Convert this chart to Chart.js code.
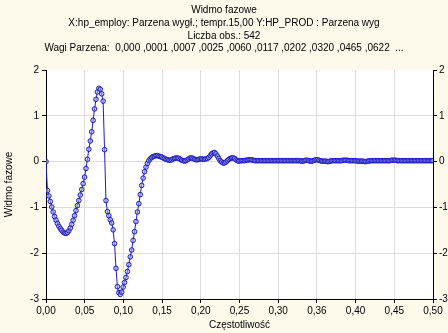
<!DOCTYPE html>
<html>
<head>
<meta charset="utf-8">
<script src="https://cdn.jsdelivr.net/npm/chart.js@4/dist/chart.umd.min.js"></script>
<style>
  html, body { margin: 0; padding: 0; background: #fdfaeb; }
  canvas { display: block; }
</style>
</head>
<body>
<canvas id="chart" width="448" height="333"></canvas>
<script>
// header lines of the chart
const headerLines = [
  'Widmo fazowe',
  'X:hp_employ: Parzena wygł.; tempr.15,00 Y:HP_PROD : Parzena wyg',
  'Liczba obs.: 542',
  'Wagi Parzena:  0,000 ,0001 ,0007 ,0025 ,0060 ,0117 ,0202 ,0320 ,0465 ,0622  ...'
];

const xTickLabels = ['0,00', '0,05', '0,10', '0,15', '0,20', '0,25', '0,30', '0,36', '0,40', '0,45', '0,50'];
const yTickLabels = { '2': '2', '1': '1', '0': '0', '-1': '-1', '-2': '-2', '-3': '-3' };

// number of observations -> frequency step 1/542
const obsCount = 542;

// phase spectrum, one value per frequency k/542, k = 0..271
const phase = [
  0.00, -0.63, -0.75, -0.87, -0.99, -1.10, -1.20, -1.28, -1.35, -1.41,
  -1.46, -1.50, -1.54, -1.56, -1.57, -1.55, -1.51, -1.45, -1.37, -1.28,
  -1.18, -1.07, -0.96, -0.85, -0.73, -0.61, -0.48, -0.34, -0.15, 0.05,
  0.27, 0.45, 0.65, 0.90, 1.15, 1.36, 1.52, 1.60, 1.58, 1.48,
  1.32, 0.26, -0.85, -1.09, -1.18, -1.27, -1.34, -1.49, -1.79, -2.33,
  -2.73, -2.86, -2.90, -2.85, -2.74, -2.64, -2.53, -2.40, -2.25, -2.08,
  -1.93, -1.72, -1.53, -1.31, -1.10, -0.92, -0.72, -0.52, -0.36, -0.22,
  -0.12, -0.04, 0.02, 0.06, 0.09, 0.11, 0.12, 0.13, 0.13, 0.12,
  0.11, 0.10, 0.08, 0.07, 0.05, 0.04, 0.03, 0.03, 0.04, 0.06,
  0.07, 0.08, 0.08, 0.07, 0.05, 0.03, 0.02, 0.01, 0.02, 0.04,
  0.06, 0.08, 0.08, 0.07, 0.05, 0.04, 0.04, 0.05, 0.06, 0.06,
  0.05, 0.05, 0.06, 0.07, 0.09, 0.13, 0.17, 0.19, 0.20, 0.17,
  0.12, 0.07, 0.02, -0.01, -0.03, -0.03, -0.01, 0.02, 0.05, 0.07,
  0.08, 0.08, 0.07, 0.04, 0.02, 0.01, 0.02,
  0.02, 0.02, 0.02, 0.03, 0.03, 0.04, 0.04, 0.04, 0.03, 0.02, 0.02, 0.02, 0.02, 0.02, 0.02,
  0.02, 0.02, 0.02, 0.02, 0.02, 0.02, 0.02, 0.02, 0.02, 0.02, 0.02, 0.02, 0.02, 0.02, 0.02,
  0.02, 0.02, 0.02, 0.02, 0.02, 0.02, 0.02, 0.02, 0.02, 0.02, 0.02, 0.02, 0.01, 0.01, 0.02,
  0.03, 0.03, 0.02, 0.01, 0.01, 0.02, 0.03, 0.04, 0.04, 0.03, 0.02, 0.01, 0.01, 0.01, 0.01,
  0.00, 0.00, 0.01, 0.02, 0.02, 0.02, 0.02, 0.02, 0.02, 0.02, 0.02, 0.03, 0.03, 0.03, 0.03,
  0.02, 0.02, 0.02, 0.02, 0.02, 0.02, 0.01, 0.01, 0.01, 0.01, 0.01, 0.00, 0.00, 0.01, 0.01,
  0.02, 0.02, 0.02, 0.02, 0.02, 0.02, 0.02, 0.02, 0.02, 0.02, 0.02, 0.02, 0.02, 0.02, 0.02,
  0.03, 0.03, 0.03, 0.03, 0.02, 0.02, 0.02, 0.02, 0.02, 0.02, 0.02, 0.02, 0.02, 0.02, 0.02,
  0.02, 0.02, 0.02, 0.02, 0.02, 0.02, 0.02, 0.02, 0.02, 0.02, 0.02, 0.02, 0.02, 0.02, 0.02
];

const points = phase.map((v, k) => ({ x: k / obsCount, y: v }));

const FONT = 'Liberation Sans, Arial, sans-serif';
const gridCol = '#dcdcdc';

// cream page, white plot area, header text
const backdrop = {
  id: 'backdrop',
  beforeDraw(chart) {
    const { ctx, chartArea: a } = chart;
    ctx.save();
    ctx.fillStyle = '#fdfaeb';
    ctx.fillRect(0, 0, chart.width, chart.height);
    ctx.fillStyle = '#ffffff';
    ctx.fillRect(a.left, a.top, a.right - a.left, a.bottom - a.top);
    ctx.fillStyle = '#000';
    ctx.font = '10px ' + FONT;
    ctx.textAlign = 'center';
    ctx.textBaseline = 'middle';
    const ys = [10, 23, 36, 48];
    headerLines.forEach((t, i) => ctx.fillText(t, chart.width / 2, ys[i]));
    ctx.restore();
  }
};

new Chart(document.getElementById('chart'), {
  type: 'line',
  data: {
    datasets: [{
      data: points,
      borderColor: '#1c1cc8',
      borderWidth: 1,
      pointRadius: 2.3,
      pointBorderWidth: 1,
      pointBorderColor: '#1c1cc8',
      pointBackgroundColor: 'rgba(170,170,215,0.55)',
      tension: 0
    }]
  },
  options: {
    responsive: false,
    animation: false,
    layout: { padding: { top: 70, left: 0, right: 0, bottom: 0 } },
    plugins: { legend: { display: false }, tooltip: { enabled: false }, title: { display: false } },
    scales: {
      x: {
        type: 'linear',
        min: 0,
        max: 0.5,
        afterFit: s => { s.height = 34; },
        ticks: {
          stepSize: 0.05,
          autoSkip: false,
          maxRotation: 0,
          padding: 2,
          color: '#000',
          font: { family: FONT, size: 10 },
          callback: (v, i) => xTickLabels[i]
        },
        grid: { color: gridCol, tickColor: '#000', tickLength: 4 },
        border: { color: '#000' },
        title: {
          display: true,
          text: 'Częstotliwość',
          color: '#000',
          font: { family: FONT, size: 10 },
          padding: { top: 0, bottom: 2 }
        }
      },
      y: {
        position: 'left',
        min: -3,
        max: 2,
        afterFit: s => { s.width = 46; },
        ticks: {
          stepSize: 1,
          padding: 3,
          color: '#000',
          font: { family: FONT, size: 10 },
          callback: v => yTickLabels[String(v)]
        },
        grid: {
          color: c => (c.tick && c.tick.value === 2) ? 'rgba(0,0,0,0)' : gridCol,
          tickColor: '#000',
          tickLength: 4
        },
        border: { color: '#000' },
        title: {
          display: true,
          text: 'Widmo fazowe',
          color: '#000',
          font: { family: FONT, size: 10 },
          padding: { top: 3, bottom: 0 }
        }
      },
      y2: {
        position: 'right',
        min: -3,
        max: 2,
        afterFit: s => { s.width = 15; },
        ticks: {
          stepSize: 1,
          padding: 2,
          color: '#000',
          font: { family: FONT, size: 10 },
          callback: v => yTickLabels[String(v)]
        },
        grid: { drawOnChartArea: false, tickColor: '#000', tickLength: 4 },
        border: { color: '#000' }
      }
    }
  },
  plugins: [backdrop]
});
</script>
</body>
</html>
